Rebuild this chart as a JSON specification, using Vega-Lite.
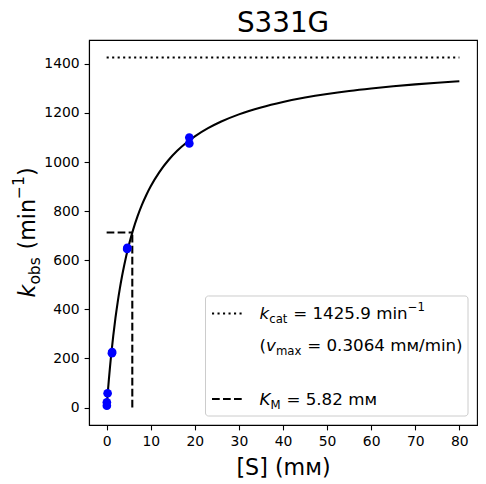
{
  "$schema": "https://vega.github.io/schema/vega-lite/v6.json",
  "width": 388,
  "height": 385,
  "autosize": "none",
  "padding": {"left": 89, "top": 40, "right": 9, "bottom": 59},
  "title": {
    "text": "S331G",
    "font": "DejaVu Sans",
    "fontSize": 27.8,
    "fontWeight": "normal",
    "color": "black",
    "frame": "group",
    "anchor": "middle",
    "offset": 2.5
  },
  "config": {
    "font": "DejaVu Sans",
    "view": {"stroke": "black", "strokeWidth": 1.1},
    "axis": {
      "grid": false,
      "domainColor": "black",
      "domainWidth": 1.1,
      "tickColor": "black",
      "tickWidth": 1.1,
      "tickSize": 4.9,
      "labelPadding": 4.9,
      "labelFont": "DejaVu Sans",
      "labelFontSize": 13.9,
      "labelColor": "black",
      "labelFlush": false,
      "labelOverlap": false,
      "format": "d",
      "titleFont": "DejaVu Sans",
      "titleFontSize": 22.2,
      "titleFontWeight": "normal",
      "titleColor": "black"
    }
  },
  "datasets": {
    "curve": [
      {"S": 0, "k": 0}, {"S": 0.1, "k": 24.1}, {"S": 0.25, "k": 58.7}, {"S": 0.5, "k": 112.8},
      {"S": 0.75, "k": 162.8}, {"S": 1, "k": 209.1}, {"S": 1.5, "k": 292.2}, {"S": 2, "k": 364.7},
      {"S": 2.5, "k": 428.5}, {"S": 3, "k": 485.0}, {"S": 3.5, "k": 535.5}, {"S": 4, "k": 580.8},
      {"S": 5, "k": 658.9}, {"S": 6, "k": 723.8}, {"S": 7, "k": 778.6}, {"S": 8, "k": 825.4},
      {"S": 9, "k": 865.9}, {"S": 10, "k": 901.3}, {"S": 12, "k": 960.2}, {"S": 14, "k": 1007.2},
      {"S": 16, "k": 1045.6}, {"S": 18, "k": 1077.5}, {"S": 20, "k": 1104.5}, {"S": 23, "k": 1137.9},
      {"S": 26, "k": 1165.1}, {"S": 30, "k": 1194.2}, {"S": 35, "k": 1222.6}, {"S": 40, "k": 1244.8},
      {"S": 45, "k": 1262.6}, {"S": 50, "k": 1277.2}, {"S": 55, "k": 1289.5}, {"S": 60, "k": 1299.8},
      {"S": 65, "k": 1308.7}, {"S": 70, "k": 1316.5}, {"S": 75, "k": 1323.2}, {"S": 80, "k": 1329.2}
    ],
    "obs": [
      {"S": 0.05, "k": 7}, {"S": 0.05, "k": 21}, {"S": 0.22, "k": 58},
      {"S": 1.2, "k": 221}, {"S": 1.25, "k": 226},
      {"S": 4.65, "k": 646}, {"S": 4.7, "k": 651},
      {"S": 18.75, "k": 1076}, {"S": 18.75, "k": 1100}
    ]
  },
  "layer": [
    {
      "data": {"name": "curve"},
      "mark": {"type": "line", "color": "black", "strokeWidth": 2.08, "interpolate": "monotone"},
      "encoding": {
        "x": {
          "field": "S",
          "type": "quantitative",
          "scale": {"domain": [-4, 84], "nice": false, "zero": false},
          "axis": {"values": [0, 10, 20, 30, 40, 50, 60, 70, 80], "title": "[S] (mᴍ)", "titlePadding": 8}
        },
        "y": {
          "field": "k",
          "type": "quantitative",
          "scale": {"domain": [-71.295, 1497.195], "nice": false, "zero": false},
          "axis": {"values": [0, 200, 400, 600, 800, 1000, 1200, 1400], "title": null}
        }
      }
    },
    {
      "data": {"values": [{}]},
      "mark": {"type": "rule", "color": "black", "strokeWidth": 2.08, "strokeDash": [2.1, 3.4], "strokeCap": "butt"},
      "encoding": {"x": {"datum": 0}, "x2": {"datum": 80}, "y": {"datum": 1425.9}}
    },
    {
      "data": {"values": [{}]},
      "mark": {"type": "rule", "color": "black", "strokeWidth": 2.08, "strokeDash": [7.7, 3.3], "strokeCap": "butt"},
      "encoding": {"x": {"datum": 0}, "x2": {"datum": 5.82}, "y": {"datum": 712.95}}
    },
    {
      "data": {"values": [{}]},
      "mark": {"type": "rule", "color": "black", "strokeWidth": 2.08, "strokeDash": [7.7, 3.3], "strokeCap": "butt"},
      "encoding": {"x": {"datum": 5.82}, "y": {"datum": 0}, "y2": {"datum": 712.95}}
    },
    {
      "data": {"name": "obs"},
      "mark": {"type": "circle", "color": "#0000ff", "size": 75, "opacity": 1},
      "encoding": {
        "x": {"field": "S", "type": "quantitative"},
        "y": {"field": "k", "type": "quantitative"}
      }
    },
    {
      "data": {"values": [{}]},
      "mark": {"type": "rect", "fill": "white", "fillOpacity": 0.8, "stroke": "#cccccc", "strokeWidth": 1, "cornerRadius": 3},
      "encoding": {"x": {"datum": 22.42}, "x2": {"datum": 81.96}, "y": {"datum": 454.26}, "y2": {"datum": -34.63}}
    },
    {
      "data": {"values": [{}]},
      "mark": {"type": "rule", "color": "black", "strokeWidth": 2.08, "strokeDash": [2.1, 3.4], "strokeCap": "butt"},
      "encoding": {"x": {"datum": 23.9}, "x2": {"datum": 30.7}, "y": {"datum": 382.95}}
    },
    {
      "data": {"values": [{}]},
      "mark": {"type": "rule", "color": "black", "strokeWidth": 2.08, "strokeDash": [7.7, 3.3], "strokeCap": "butt"},
      "encoding": {"x": {"datum": 23.9}, "x2": {"datum": 30.7}, "y": {"datum": 34.6}}
    },
    {
      "data": {"values": [{}]},
      "encoding": {"x": {"datum": 34.67}, "y": {"datum": 360.5}},
      "layer": [
        {"mark": {"type": "text", "text": "k", "fontSize": 16.7, "fontStyle": "italic", "align": "left", "baseline": "alphabetic", "color": "black"}},
        {"mark": {"type": "text", "text": "cat", "fontSize": 11.7, "dx": 9.7, "dy": 4, "align": "left", "baseline": "alphabetic", "color": "black"}},
        {"mark": {"type": "text", "text": "= 1425.9 min", "fontSize": 16.7, "dx": 33.7, "align": "left", "baseline": "alphabetic", "color": "black"}},
        {"mark": {"type": "text", "text": "−1", "fontSize": 11.7, "dx": 148.2, "dy": -8, "align": "left", "baseline": "alphabetic", "color": "black"}}
      ]
    },
    {
      "data": {"values": [{}]},
      "encoding": {"x": {"datum": 34.67}, "y": {"datum": 232.2}},
      "layer": [
        {"mark": {"type": "text", "text": "(", "fontSize": 16.7, "align": "left", "baseline": "alphabetic", "color": "black"}},
        {"mark": {"type": "text", "text": "v", "fontSize": 16.7, "fontStyle": "italic", "dx": 6.5, "align": "left", "baseline": "alphabetic", "color": "black"}},
        {"mark": {"type": "text", "text": "max", "fontSize": 11.7, "dx": 16.4, "dy": 4, "align": "left", "baseline": "alphabetic", "color": "black"}},
        {"mark": {"type": "text", "text": "= 0.3064 mᴍ/min)", "fontSize": 16.7, "dx": 47.7, "align": "left", "baseline": "alphabetic", "color": "black"}}
      ]
    },
    {
      "data": {"values": [{}]},
      "encoding": {"x": {"datum": 34.67}, "y": {"datum": 10.2}},
      "layer": [
        {"mark": {"type": "text", "text": "K", "fontSize": 16.7, "fontStyle": "italic", "align": "left", "baseline": "alphabetic", "color": "black"}},
        {"mark": {"type": "text", "text": "M", "fontSize": 11.7, "dx": 11, "dy": 4, "align": "left", "baseline": "alphabetic", "color": "black"}},
        {"mark": {"type": "text", "text": "= 5.82 mᴍ", "fontSize": 16.7, "dx": 26.9, "align": "left", "baseline": "alphabetic", "color": "black"}}
      ]
    },
    {
      "data": {"values": [{}]},
      "encoding": {"x": {"datum": -16.25}, "y": {"datum": 448.1}},
      "layer": [
        {"mark": {"type": "text", "text": "k", "angle": 270, "fontSize": 22.2, "fontStyle": "italic", "align": "left", "baseline": "alphabetic", "color": "black"}},
        {"mark": {"type": "text", "text": "obs", "angle": 270, "fontSize": 15.5, "dx": 12.9, "dy": 5.3, "align": "left", "baseline": "alphabetic", "color": "black"}},
        {"mark": {"type": "text", "text": "(min", "angle": 270, "fontSize": 22.2, "dx": 48, "align": "left", "baseline": "alphabetic", "color": "black"}},
        {"mark": {"type": "text", "text": "−1", "angle": 270, "fontSize": 15.5, "dx": 98.5, "dy": -10.5, "align": "left", "baseline": "alphabetic", "color": "black"}},
        {"mark": {"type": "text", "text": ")", "angle": 270, "fontSize": 22.2, "dx": 121.4, "align": "left", "baseline": "alphabetic", "color": "black"}}
      ]
    }
  ]
}
